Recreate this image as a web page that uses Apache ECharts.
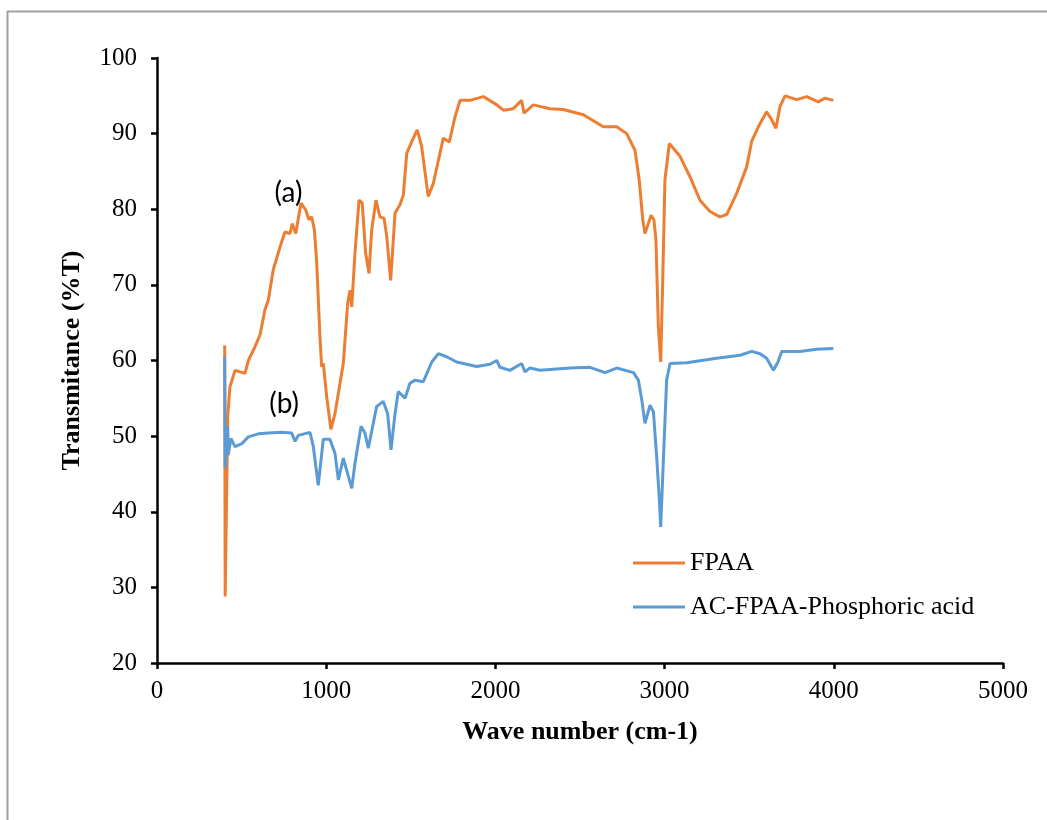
<!DOCTYPE html>
<html>
<head>
<meta charset="utf-8">
<script src="https://cdn.jsdelivr.net/npm/echarts@6/dist/echarts.min.js"></script>
<style>
html,body{margin:0;padding:0;background:#fff;}
#c{width:1047px;height:820px;}
</style>
</head>
<body>
<div id="c"></div>
<script>
// Wave number (cm-1) and transmittance (%T)
const fpaaX = [400, 403, 418, 431, 461, 520, 540, 579, 609, 638, 658, 687, 727, 756, 786, 800, 820, 851, 879, 898, 914, 930, 944, 963, 973, 983, 1003, 1028, 1052, 1101, 1127, 1141, 1151, 1170, 1194, 1213, 1233, 1253, 1269, 1294, 1318, 1342, 1358, 1381, 1407, 1436, 1456, 1476, 1505, 1538, 1564, 1603, 1633, 1692, 1728, 1761, 1791, 1850, 1929, 2008, 2047, 2106, 2155, 2169, 2224, 2323, 2401, 2520, 2638, 2717, 2776, 2825, 2850, 2871, 2884, 2904, 2920, 2937, 2949, 2963, 2977, 2989, 3002, 3028, 3091, 3150, 3209, 3268, 3327, 3367, 3426, 3485, 3515, 3554, 3603, 3634, 3658, 3682, 3712, 3781, 3840, 3908, 3948, 3997];
const fpaaY = [62.0, 28.8, 52.6, 56.5, 58.7, 58.3, 60.0, 61.8, 63.4, 66.7, 68.0, 72.0, 75.0, 77.0, 76.8, 78.1, 76.8, 80.8, 79.9, 78.6, 79.0, 77.3, 72.9, 63.2, 59.2, 59.6, 55.2, 50.9, 53.0, 59.6, 67.6, 69.3, 67.1, 74.2, 81.2, 80.8, 74.2, 71.5, 77.3, 81.2, 79.0, 78.8, 76.4, 70.6, 79.5, 80.6, 81.9, 87.4, 88.9, 90.5, 88.3, 81.7, 83.4, 89.4, 88.9, 92.2, 94.4, 94.4, 94.9, 93.8, 93.1, 93.3, 94.4, 92.7, 93.8, 93.3, 93.2, 92.5, 90.9, 90.9, 90.0, 87.8, 83.9, 78.6, 76.8, 78.1, 79.2, 78.6, 75.9, 64.5, 59.8, 70.6, 83.9, 88.7, 87.0, 84.3, 81.2, 79.7, 79.0, 79.3, 82.1, 85.6, 89.0, 90.9, 92.9, 91.8, 90.7, 93.6, 95.0, 94.5, 94.9, 94.2, 94.7, 94.4];

const acX = [400, 403, 418, 421, 437, 461, 501, 540, 599, 658, 737, 796, 816, 835, 904, 924, 953, 983, 1022, 1052, 1072, 1101, 1151, 1170, 1206, 1229, 1249, 1298, 1337, 1363, 1383, 1407, 1426, 1466, 1495, 1525, 1574, 1624, 1663, 1712, 1771, 1830, 1889, 1968, 2008, 2027, 2086, 2155, 2175, 2204, 2264, 2441, 2559, 2648, 2717, 2816, 2845, 2865, 2884, 2914, 2934, 2953, 2969, 2977, 2992, 3012, 3032, 3131, 3308, 3446, 3515, 3564, 3603, 3643, 3670, 3692, 3800, 3899, 3997];
const acY = [60.5, 45.8, 51.3, 47.5, 49.7, 48.6, 49.0, 49.9, 50.3, 50.4, 50.5, 50.4, 49.3, 50.1, 50.5, 48.6, 43.5, 49.6, 49.6, 47.7, 44.2, 47.1, 43.1, 46.4, 51.3, 50.4, 48.4, 53.9, 54.6, 53.0, 48.2, 53.0, 55.9, 55.0, 57.0, 57.4, 57.2, 59.8, 60.9, 60.5, 59.8, 59.5, 59.2, 59.5, 60.0, 59.1, 58.7, 59.6, 58.5, 59.0, 58.7, 59.0, 59.1, 58.4, 59.0, 58.4, 57.4, 54.8, 51.7, 54.1, 53.2, 47.3, 41.6, 38.0, 46.4, 57.4, 59.6, 59.7, 60.3, 60.7, 61.2, 60.9, 60.3, 58.7, 59.8, 61.2, 61.2, 61.5, 61.6];

const seriesNames = ['FPAA', 'AC-FPAA-Phosphoric acid'];
const annotations = ['(a)', '(b)'];
const xTitle = 'Wave number (cm-1)';
const yTitle = 'Transmitance (%T)';

const zip = (xs, ys) => xs.map((x, i) => [x, ys[i]]);

const chart = echarts.init(document.getElementById('c'), null, {renderer: 'canvas'});
const serif = '"Liberation Serif", "Times New Roman", serif';
const annoFont = 'Lato, "Liberation Sans", sans-serif';
function anno(text, coord) {
  return {symbol: 'circle', symbolSize: 1, silent: true,
    itemStyle: {color: 'rgba(0,0,0,0)'},
    label: {show: true, position: 'inside', formatter: text, fontFamily: annoFont, fontSize: 28, color: '#000'},
    data: [{coord: coord}]};
}
chart.setOption({
  animation: false,
  backgroundColor: '#ffffff',
  grid: {left: 157, top: 58, right: 44, bottom: 157, containLabel: false},
  xAxis: {
    type: 'value', min: 0, max: 5000, interval: 1000,
    name: xTitle, nameLocation: 'middle', nameGap: 56,
    nameTextStyle: {fontFamily: serif, fontSize: 26, fontWeight: 'bold', color: '#000'},
    axisLine: {show: true, onZero: false, lineStyle: {color: '#000', width: 2.5}},
    axisTick: {show: true, inside: false, length: 6, lineStyle: {color: '#000', width: 2.5}},
    axisLabel: {fontFamily: serif, fontSize: 25, color: '#000', margin: 16, formatter: v => String(v)},
    splitLine: {show: false}
  },
  yAxis: {
    type: 'value', min: 20, max: 100, interval: 10,
    name: yTitle, nameLocation: 'middle', nameGap: 72,
    nameTextStyle: {fontFamily: serif, fontSize: 26, fontWeight: 'bold', color: '#000'},
    axisLine: {show: true, onZero: false, lineStyle: {color: '#000', width: 2.5}},
    axisTick: {show: true, inside: false, length: 6, lineStyle: {color: '#000', width: 2.5}},
    axisLabel: {fontFamily: serif, fontSize: 25, color: '#000', margin: 20, formatter: v => String(v)},
    splitLine: {show: false}
  },
  legend: {
    orient: 'vertical', left: 628, top: 545, itemWidth: 52, itemHeight: 3, itemGap: 18,
    icon: 'rect',
    textStyle: {fontFamily: serif, fontSize: 26, color: '#000'},
    data: seriesNames
  },
  graphic: [
    {type: 'rect', silent: true, z: -1,
     shape: {x: 7.5, y: 11.5, width: 1200, height: 1000},
     style: {fill: 'none', stroke: '#a0a0a0', lineWidth: 2}}
  ],
  series: [
    {name: seriesNames[0], type: 'line', showSymbol: false, symbol: 'none',
     data: zip(fpaaX, fpaaY), lineStyle: {color: '#ED7D31', width: 3}, itemStyle: {color: '#ED7D31'},
     markPoint: anno(annotations[0], [777, 82.1])},
    {name: seriesNames[1], type: 'line', showSymbol: false, symbol: 'none',
     data: zip(acX, acY), lineStyle: {color: '#5B9BD5', width: 3}, itemStyle: {color: '#5B9BD5'},
     markPoint: anno(annotations[1], [751, 54.2])}
  ]
});
</script>
</body>
</html>
